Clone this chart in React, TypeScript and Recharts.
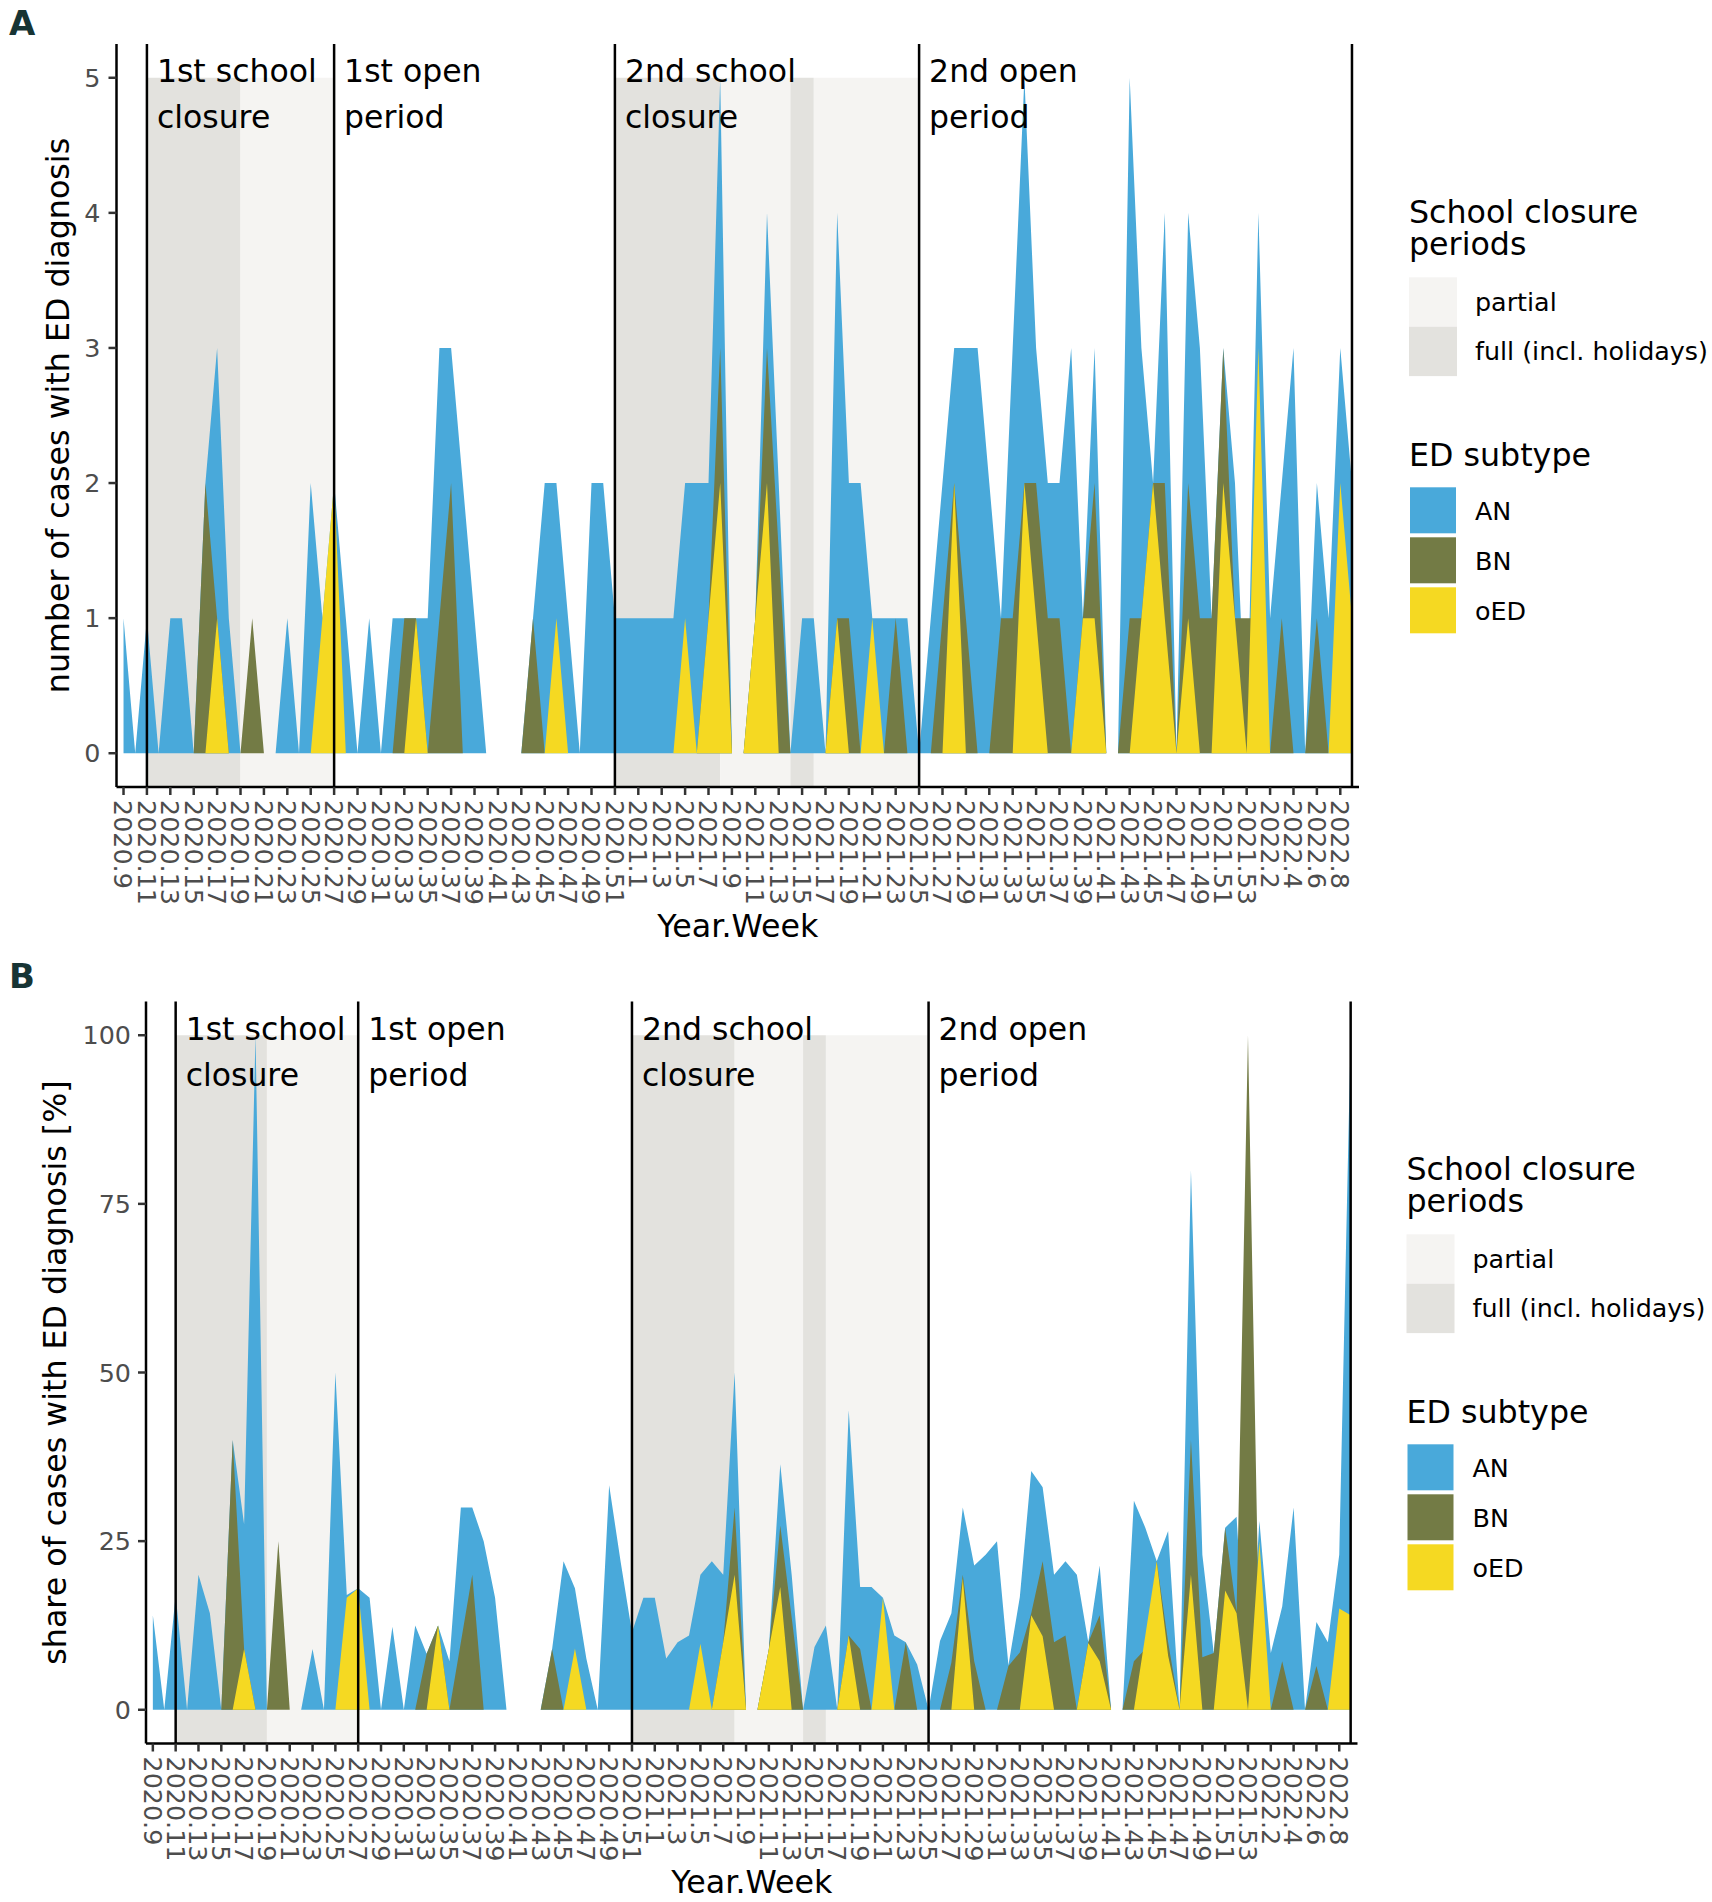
import React from 'react';
import { ComposedChart, Area, XAxis, YAxis, ReferenceArea, ReferenceLine } from 'recharts';

const FONT = '"DejaVu Sans", sans-serif';

// Year.Week categories, 2020.9 .. 2022.9
const weeks = [
  '2020.9', '2020.10', '2020.11', '2020.12', '2020.13', '2020.14', '2020.15', '2020.16', '2020.17', '2020.18',
  '2020.19', '2020.20', '2020.21', '2020.22', '2020.23', '2020.24', '2020.25', '2020.26', '2020.27', '2020.28',
  '2020.29', '2020.30', '2020.31', '2020.32', '2020.33', '2020.34', '2020.35', '2020.36', '2020.37', '2020.38',
  '2020.39', '2020.40', '2020.41', '2020.42', '2020.43', '2020.44', '2020.45', '2020.46', '2020.47', '2020.48',
  '2020.49', '2020.50', '2020.51', '2020.52', '2021.1', '2021.2', '2021.3', '2021.4', '2021.5', '2021.6',
  '2021.7', '2021.8', '2021.9', '2021.10', '2021.11', '2021.12', '2021.13', '2021.14', '2021.15', '2021.16',
  '2021.17', '2021.18', '2021.19', '2021.20', '2021.21', '2021.22', '2021.23', '2021.24', '2021.25', '2021.26',
  '2021.27', '2021.28', '2021.29', '2021.30', '2021.31', '2021.32', '2021.33', '2021.34', '2021.35', '2021.36',
  '2021.37', '2021.38', '2021.39', '2021.40', '2021.41', '2021.42', '2021.43', '2021.44', '2021.45', '2021.46',
  '2021.47', '2021.48', '2021.49', '2021.50', '2021.51', '2021.52', '2021.53', '2022.1', '2022.2', '2022.3',
  '2022.4', '2022.5', '2022.6', '2022.7', '2022.8', '2022.9',
];

// panel A: number of cases
const anCounts = [
  1, 0, 1, 0, 1, 1, 0, 2, 3, 1,
  0, 0, 0, 0, 1, 0, 2, 1, 2, 1,
  0, 1, 0, 1, 1, 1, 1, 3, 3, 2,
  1, 0, 0, 0, 0, 1, 2, 2, 1, 0,
  2, 2, 1, 1, 1, 1, 1, 1, 2, 2,
  2, 5, 0, 0, 1, 4, 2, 0, 1, 1,
  0, 4, 2, 2, 1, 1, 1, 1, 0, 1,
  2, 3, 3, 3, 2, 1, 3, 5, 3, 2,
  2, 3, 1, 3, 0, 0, 5, 3, 2, 4,
  0, 4, 3, 1, 3, 2, 0, 4, 1, 2,
  3, 0, 2, 1, 3, 2,
];
const bnCounts = [
  0, 0, 0, 0, 0, 0, 0, 2, 1, 0,
  0, 1, 0, 0, 0, 0, 0, 0, 0, 0,
  0, 0, 0, 0, 1, 1, 0, 1, 2, 0,
  0, 0, 0, 0, 0, 1, 0, 0, 0, 0,
  0, 0, 0, 0, 0, 0, 0, 0, 0, 0,
  1, 3, 0, 0, 1, 3, null, 0, 0, 0,
  0, 1, 1, 0, 0, 0, 1, 0, 0, 0,
  1, 2, 1, 0, 0, 1, 1, 2, 2, 1,
  1, 0, 1, 2, 0, 0, 1, 1, 2, 2,
  0, 2, 1, 1, 3, 1, 1, 1, 0, 1,
  0, 0, 1, 0, 0, 0,
];
const oedCounts = [
  0, 0, 0, 0, 0, 0, 0, 0, 1, 0,
  0, 0, 0, 0, 0, 0, 0, 1, 2, 0,
  0, 0, 0, 0, 0, 1, 0, 0, 0, 0,
  0, 0, 0, 0, 0, 0, 0, 1, 0, 0,
  0, 0, 0, 0, 0, 0, 0, 0, 1, 0,
  1, 2, 0, 0, 1, 2, 0, 0, 0, 0,
  0, 1, 0, 0, 1, 0, 0, 0, 0, 0,
  0, 2, 0, 0, 0, 0, 0, 2, 1, 0,
  0, 0, 1, 1, 0, 0, 0, 1, 2, 1,
  0, 1, 0, 0, 2, 1, 0, 3, 0, 0,
  0, 0, 0, 0, 2, 1,
];

// panel B: share of cases [%]
const anShare = [
  14, 0, 17, 0, 20, 14.3, 0, 40, 27.5, 100,
  0, 0, 0, 0, 9, 0, 50, 17, 18, 16.6,
  0, 12.3, 0, 12.5, 8.3, 12.5, 7.2, 30, 30, 25,
  16.6, 0, 0, 0, 0, 9, 22, 18, 7.6, 0,
  33.3, 22, 11.5, 16.6, 16.6, 7.6, 10, 11, 20, 22,
  20, 50, 0, 0, 9, 36.4, 20, 0, 9.3, 12.5,
  0, 44.4, 18.2, 18.2, 16.6, 11, 10, 6.7, 0, 10.2,
  14.3, 30, 21.4, 23, 25, 6.6, 16.7, 35.4, 33, 20,
  22, 20, 10, 21.4, 0, 0, 31, 27, 22, 26.5,
  0, 80, 23, 8.4, 27, 28.6, 0, 28, 8.4, 15.3,
  30, 0, 13, 10, 23, 100,
];
const bnShare = [
  0, 0, 0, 0, 0, 0, 0, 40, 9, 0,
  0, 25, 0, 0, 0, 0, 0, 0, 0, 0,
  0, 0, 0, 0, 8.3, 12.5, 0, 10, 20, 0,
  0, 0, 0, 0, 0, 9, 0, 0, 0, 0,
  0, 0, 0, 0, 0, 0, 0, 0, 0, 0,
  10, 30, 0, 0, 9, 27.3, null, 0, 0, 0,
  0, 11, 9, 0, 0, 0, 10, 0, 0, 0,
  7, 20, 7.2, 0, 0, 6.5, 8.5, 14.3, 22, 10,
  11, 0, 10, 14, 0, 0, 7.2, 9, 22, 10,
  0, 40, 7.8, 8.4, 27, 14.5, 100, 8, 0, 7.2,
  0, 0, 6.5, 0, 0, 0,
];
const oedShare = [
  0, 0, 0, 0, 0, 0, 0, 0, 9, 0,
  0, 0, 0, 0, 0, 0, 0, 16.6, 18, 0,
  0, 0, 0, 0, 0, 12.5, 0, 0, 0, 0,
  0, 0, 0, 0, 0, 0, 0, 9.1, 0, 0,
  0, 0, 0, 0, 0, 0, 0, 0, 9.8, 0,
  10, 20, 0, 0, 9, 18.2, 0, 0, 0, 0,
  0, 11, 0, 0, 16.6, 0, 0, 0, 0, 0,
  0, 19.5, 0, 0, 0, 0, 0, 14, 10.9, 0,
  0, 0, 9.9, 7.2, 0, 0, 0, 11, 22, 8,
  0, 20, 0, 0, 17.7, 14.3, 0, 25, 0, 0,
  0, 0, 0, 0, 15, 14,
];

const closureBands = [
  { from: '2020.11', to: '2020.19', kind: 'full' },
  { from: '2020.19', to: '2020.27', kind: 'partial' },
  { from: '2020.51', to: '2021.8', kind: 'full' },
  { from: '2021.8', to: '2021.14', kind: 'partial' },
  { from: '2021.14', to: '2021.16', kind: 'full' },
  { from: '2021.16', to: '2021.25', kind: 'partial' },
];
const periodStarts = [
  { week: '2020.11', text: ['1st school', 'closure'] },
  { week: '2020.27', text: ['1st open', 'period'] },
  { week: '2020.51', text: ['2nd school', 'closure'] },
  { week: '2021.25', text: ['2nd open', 'period'] },
];
const periodEnd = '2022.9';

const bandColors = { partial: '#F5F4F2', full: '#E3E2DE' };
const subtypes = ['AN', 'BN', 'oED'];
const subtypeColors = { AN: '#49A9DA', BN: '#737B45', oED: '#F5D922' };

const weekIndex = (w) => weeks.indexOf(w);
const weekTicks = weeks.map((_, i) => i).filter((i) => i % 2 === 0);

const rowsA = weeks.map((week, i) => ({ idx: i, week, AN: anCounts[i], BN: bnCounts[i], oED: oedCounts[i] }));
const rowsB = weeks.map((week, i) => ({ idx: i, week, AN: anShare[i], BN: bnShare[i], oED: oedShare[i] }));

function WeekTick({ x, y, payload }) {
  return (
    <text x={x} y={y} dy="0.36em" transform={`rotate(90, ${x}, ${y})`} fontSize={25.4} fill="#4D4D4D" fontFamily={FONT}>
      {weeks[payload.value]}
    </text>
  );
}

function PeriodLabel({ viewBox, lines }) {
  const x = viewBox.x + 10;
  return (
    <text x={x} y={viewBox.y + 38} fontSize={31.5} fill="#000" fontFamily={FONT}>
      <tspan x={x}>{lines[0]}</tspan>
      <tspan x={x} dy={46}>{lines[1]}</tspan>
    </text>
  );
}

function Panel({ data, domain, ticks, bandTop, yTitle, margin, yWidth, xHeight, yTitleOffset, xTitleOffset, yTickMargin }) {
  return (
    <ComposedChart width={1712} height={951} data={data} margin={margin} style={{ fontFamily: FONT }}>
      <XAxis
        type="number"
        dataKey="idx"
        domain={[-0.6, 105.6]}
        ticks={weekTicks}
        interval={0}
        allowDataOverflow
        height={xHeight}
        tick={<WeekTick />}
        tickSize={8}
        tickMargin={5}
        axisLine={{ stroke: '#000', strokeWidth: 2.5 }}
        tickLine={{ stroke: '#333', strokeWidth: 2.5 }}
        label={{ value: 'Year.Week', position: 'insideBottom', offset: xTitleOffset, fontSize: 31.7, fill: '#000', fontFamily: FONT }}
      />
      <YAxis
        type="number"
        domain={domain}
        ticks={ticks}
        interval={0}
        allowDataOverflow
        width={yWidth}
        tickSize={8}
        tickMargin={yTickMargin}
        tick={{ fontSize: 25.4, fill: '#4D4D4D', fontFamily: FONT }}
        axisLine={{ stroke: '#000', strokeWidth: 2.5 }}
        tickLine={{ stroke: '#333', strokeWidth: 2.5 }}
        label={{ value: yTitle, angle: -90, position: 'insideLeft', offset: yTitleOffset, fontSize: 31.7, fill: '#000', fontFamily: FONT, style: { textAnchor: 'middle' } }}
      />
      {closureBands.map((b) => (
        <ReferenceArea
          key={b.from}
          x1={weekIndex(b.from)}
          x2={weekIndex(b.to)}
          y1={domain[0]}
          y2={bandTop}
          fill={bandColors[b.kind]}
          fillOpacity={1}
          stroke="none"
          ifOverflow="visible"
        />
      ))}
      {subtypes.map((s) => (
        <Area
          key={s}
          type="linear"
          dataKey={s}
          fill={subtypeColors[s]}
          fillOpacity={1}
          stroke="none"
          baseValue={0}
          connectNulls
          dot={false}
          activeDot={false}
          isAnimationActive={false}
        />
      ))}
      {periodStarts.map((p) => (
        <ReferenceLine
          key={p.week}
          x={weekIndex(p.week)}
          stroke="#000"
          strokeWidth={2.5}
          ifOverflow="visible"
          label={<PeriodLabel lines={p.text} />}
        />
      ))}
      <ReferenceLine x={weekIndex(periodEnd)} stroke="#000" strokeWidth={2.5} ifOverflow="visible" />
    </ComposedChart>
  );
}

function LegendBlock({ dx, dy }) {
  return (
    <g transform={`translate(${dx},${dy})`} fontFamily={FONT} fill="#000">
      <text x={1409} y={222.7} fontSize={31.7}>School closure</text>
      <text x={1409} y={255} fontSize={31.7}>periods</text>
      <rect x={1409} y={277.3} width={48} height={49.4} fill={bandColors.partial} />
      <rect x={1409} y={326.7} width={48} height={49.4} fill={bandColors.full} />
      <text x={1475} y={310.7} fontSize={25.4}>partial</text>
      <text x={1475} y={360} fontSize={25.4}>full (incl. holidays)</text>
      <text x={1409} y={466} fontSize={31.7}>ED subtype</text>
      {subtypes.map((s, i) => (
        <g key={s}>
          <rect x={1410} y={487.3 + 50 * i} width={46} height={46} fill={subtypeColors[s]} />
          <text x={1475} y={520 + 50 * i} fontSize={25.4}>{s}</text>
        </g>
      ))}
    </g>
  );
}

export default function App() {
  return (
    <div style={{ position: 'absolute', left: 0, top: 0, width: 1712, height: 1902, background: '#fff', overflow: 'hidden' }}>
      <div style={{ position: 'absolute', left: 0, top: 0 }}>
        <Panel
          data={rowsA}
          domain={[-0.25, 5.25]}
          ticks={[0, 1, 2, 3, 4, 5]}
          bandTop={5}
          yTitle="number of cases with ED diagnosis"
          margin={{ top: 44, right: 353, bottom: 0, left: 0 }}
          yWidth={116.5}
          xHeight={164}
          yTitleOffset={57.5}
          xTitleOffset={14}
          yTickMargin={8}
        />
      </div>
      <div style={{ position: 'absolute', left: 0, top: 951 }}>
        <Panel
          data={rowsB}
          domain={[-5, 105]}
          ticks={[0, 25, 50, 75, 100]}
          bandTop={100}
          yTitle="share of cases with ED diagnosis [%]"
          margin={{ top: 50.5, right: 354.5, bottom: 0, left: 0 }}
          yWidth={146}
          xHeight={158.5}
          yTitleOffset={55}
          xTitleOffset={9}
          yTickMargin={7}
        />
      </div>
      <svg width={1712} height={1902} style={{ position: 'absolute', left: 0, top: 0, pointerEvents: 'none' }}>
        <text x={9} y={35} fontSize={34} fontWeight="bold" fill="#173434" fontFamily={FONT}>A</text>
        <text x={9} y={988} fontSize={34} fontWeight="bold" fill="#173434" fontFamily={FONT}>B</text>
        <LegendBlock dx={0} dy={0} />
        <LegendBlock dx={-2.5} dy={957} />
      </svg>
    </div>
  );
}
